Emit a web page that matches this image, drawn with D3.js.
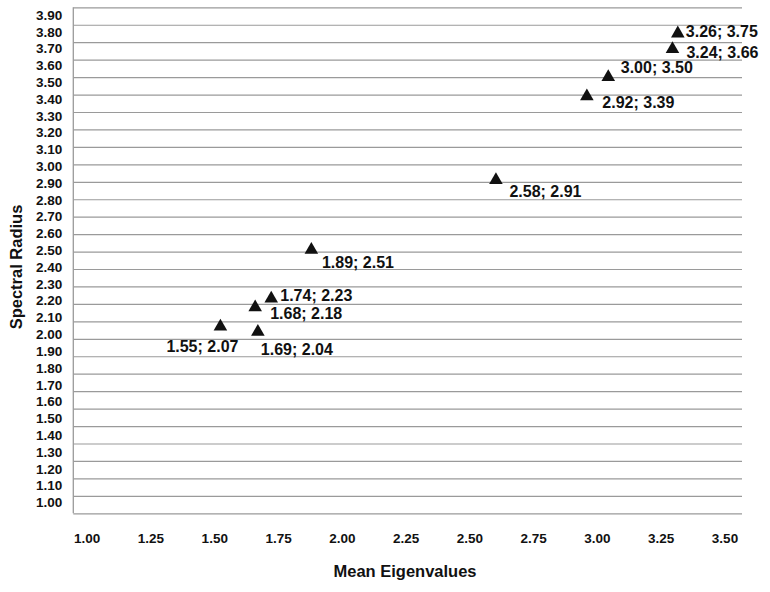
<!DOCTYPE html>
<html>
<head>
<meta charset="utf-8">
<script src="https://cdn.jsdelivr.net/npm/d3@7"></script>
<style>
  body { margin: 0; background: #fff; }
  svg { display: block; font-family: "Liberation Sans", Arial, sans-serif; font-weight: bold; }
</style>
</head>
<body>
<svg id="chart" width="770" height="592"></svg>
<script>
// data
const meanEigenvalues = [3.26, 3.24, 3.00, 2.92, 2.58, 1.89, 1.74, 1.68, 1.55, 1.69];
const spectralRadius  = [3.75, 3.66, 3.50, 3.39, 2.91, 2.51, 2.23, 2.18, 2.07, 2.04];
const xTickLabels = [1.00, 1.25, 1.50, 1.75, 2.00, 2.25, 2.50, 2.75, 3.00, 3.25, 3.50];
const yTickLabels = [1.00, 1.10, 1.20, 1.30, 1.40, 1.50, 1.60, 1.70, 1.80, 1.90,
                     2.00, 2.10, 2.20, 2.30, 2.40, 2.50, 2.60, 2.70, 2.80, 2.90,
                     3.00, 3.10, 3.20, 3.30, 3.40, 3.50, 3.60, 3.70, 3.80, 3.90];

// where each point label sits relative to its marker (dx, dy of text centre, anchor)
const labelPlacement = [
    [8, -2.5, "start"], [14, 3.5, "start"], [12.5, -9.5, "start"], [15.5, 6, "start"],
    [13.5, 11.7, "start"], [10.6, 12, "start"], [9, -3.6, "start"], [15, 6, "start"],
    [-18, 19.5, "middle"], [3, 17.3, "start"]
];

const svg = d3.select("#chart");
const fmt = d3.format(".2f");

const plot = { left: 73.3, right: 742, top: 7.3, bottom: 513.3 };

// scales for the marks
const x = d3.scaleLinear().domain([1, 3.5]).range([plot.left, plot.right]);
const y = d3.scaleLinear().domain([1, 3.9]).range([plot.bottom, plot.top]);

// tick labels sit on their own slightly tighter scales
const xLab = d3.scaleLinear().domain([1, 3.5]).range([86.7, 724.5]);
const yLab = d3.scaleLinear().domain([1, 3.9]).range([502.3, 15]);

// horizontal gridlines
const grid = svg.append("g")
    .attr("transform", `translate(${plot.left},0)`)
    .call(d3.axisLeft(y).tickValues(yTickLabels).tickSize(-(plot.right - plot.left)).tickFormat(""));
grid.select(".domain").remove();
grid.selectAll("line").attr("stroke", "#9a9a9a").attr("stroke-width", 1.2);

// left axis line
svg.append("line")
    .attr("x1", plot.left).attr("x2", plot.left)
    .attr("y1", y(3.9)).attr("y2", y(1))
    .attr("stroke", "#9a9a9a").attr("stroke-width", 1.3);

// y tick labels
const yAxis = svg.append("g")
    .attr("transform", `translate(${plot.left},0)`)
    .call(d3.axisLeft(yLab).tickValues(yTickLabels).tickSize(0).tickPadding(11).tickFormat(fmt));
yAxis.select(".domain").remove();
yAxis.selectAll("text")
    .attr("font-family", "Liberation Sans, Arial, sans-serif")
    .attr("font-weight", "bold")
    .attr("font-size", 13.5)
    .attr("fill", "#111");

// x tick labels
const xAxis = svg.append("g")
    .attr("transform", "translate(0,533)")
    .call(d3.axisBottom(xLab).tickValues(xTickLabels).tickSize(0).tickPadding(0).tickFormat(fmt));
xAxis.select(".domain").remove();
xAxis.selectAll("text")
    .attr("font-family", "Liberation Sans, Arial, sans-serif")
    .attr("font-weight", "bold")
    .attr("font-size", 13.5)
    .attr("fill", "#111");

// axis titles
svg.append("text")
    .attr("x", 405).attr("y", 577)
    .attr("text-anchor", "middle")
    .attr("font-size", 16.5)
    .attr("fill", "#111")
    .text("Mean Eigenvalues");

svg.append("text")
    .attr("transform", "translate(22,267) rotate(-90)")
    .attr("text-anchor", "middle")
    .attr("font-size", 16.5)
    .attr("fill", "#111")
    .text("Spectral Radius");

// markers
const points = meanEigenvalues.map((d, i) => ({ x: d, y: spectralRadius[i], i }));

svg.append("g")
    .selectAll("path")
    .data(points)
    .join("path")
    .attr("d", d3.symbol(d3.symbolTriangle, 80))
    .attr("transform", d => `translate(${x(d.x)},${y(d.y)})`)
    .attr("fill", "#111");

// point labels
svg.append("g")
    .selectAll("text")
    .data(points)
    .join("text")
    .attr("x", d => x(d.x) + labelPlacement[d.i][0])
    .attr("y", d => y(d.y) + labelPlacement[d.i][1] + 5.7)
    .attr("text-anchor", d => labelPlacement[d.i][2])
    .attr("font-size", 16)
    .attr("fill", "#111")
    .text(d => `${fmt(d.x)}; ${fmt(d.y)}`);
</script>
</body>
</html>
